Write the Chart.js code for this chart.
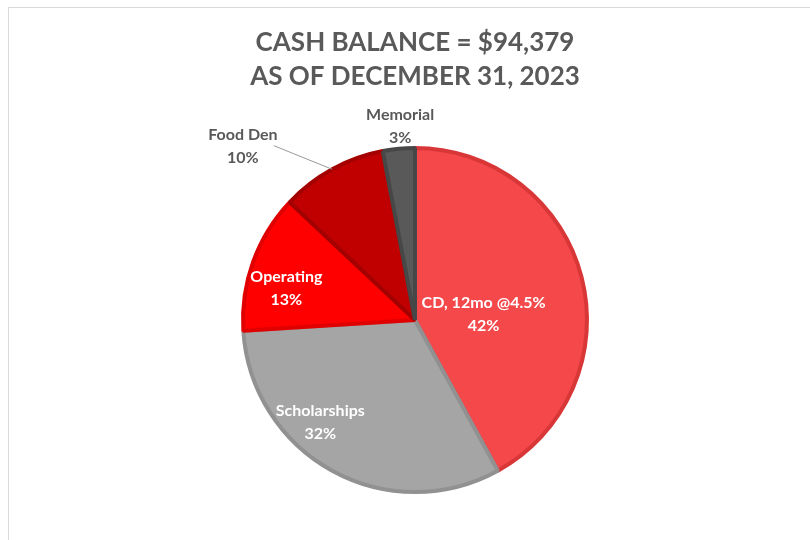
<!DOCTYPE html>
<html>
<head>
<meta charset="utf-8">
<script src="https://cdn.jsdelivr.net/npm/chart.js@4.4.0/dist/chart.umd.min.js"></script>
<style>
html, body { margin: 0; padding: 0; background: #fff; overflow: hidden; }
#frame { position: absolute; left: 8px; top: 7px; width: 900px; height: 700px; border: 1px solid #d9d9d9; }
#myChart { position: absolute; left: 0; top: 0; }
</style>
</head>
<body>
<div id="frame"></div>
<canvas id="myChart" width="810" height="540"></canvas>
<script>
// datos del grafico (porcentajes)
var categories = ['CD, 12mo @4.5%', 'Scholarships', 'Operating', 'Food Den', 'Memorial'];
var percents = [42, 32, 13, 10, 3];
var titleLines = ['CASH BALANCE = $94,379', 'AS OF DECEMBER 31, 2023'];

var fills = ['#f4484b', '#a5a5a5', '#ff0000', '#c00000', '#595959'];
var borders = ['#d93638', '#919191', '#e00000', '#a40000', '#474747'];

// donde va cada etiqueta: giro (grados) respecto al centro del sector y fraccion del radio
var labelPlace = [
    { shift: 10, frac: 0.40, color: '#fff' },
    { shift: 14, frac: 0.81, color: '#fff' },
    { shift: -6, frac: 0.77, color: '#fff' },
    { shift: -16, frac: 1.42, color: '#595959', leader: 31 },
    { shift: 1, frac: 1.13, color: '#595959' }
];

var FONT = 'Lato';

var sliceLabels = {
    id: 'sliceLabels',
    afterDatasetsDraw: function(chart) {
        var ctx = chart.ctx;
        var arcs = chart.getDatasetMeta(0).data;
        ctx.save();
        ctx.font = 'bold 16px ' + FONT;
        ctx.textAlign = 'center';
        ctx.textBaseline = 'middle';
        arcs.forEach(function(arc, i) {
            var p = labelPlace[i];
            var mid = (arc.startAngle + arc.endAngle) / 2;
            var a = mid + p.shift * Math.PI / 180;
            var r = arc.outerRadius;
            var cx = arc.x + Math.cos(a) * r * p.frac;
            var cy = arc.y + Math.sin(a) * r * p.frac;
            if (p.leader) {
                ctx.strokeStyle = '#999999';
                ctx.lineWidth = 1;
                ctx.beginPath();
                ctx.moveTo(cx + p.leader, cy - 1);
                ctx.lineTo(arc.x + Math.cos(mid) * r, arc.y + Math.sin(mid) * r);
                ctx.stroke();
            }
            ctx.fillStyle = p.color;
            ctx.fillText(categories[i], cx, cy - 11.5);
            ctx.fillText(percents[i] + '%', cx, cy + 11.5);
        });
        ctx.restore();
    }
};

var ctx = document.getElementById('myChart').getContext('2d');
var chart = new Chart(ctx, {
    type: 'pie',
    data: {
        labels: categories,
        datasets: [{
            data: percents,
            backgroundColor: fills,
            borderColor: borders,
            borderWidth: 4
        }]
    },
    options: {
        responsive: false,
        animation: false,
        devicePixelRatio: 1,
        layout: { padding: { left: 20, right: 0, top: 0, bottom: 46 } },
        plugins: {
            legend: { display: false },
            tooltip: { enabled: false },
            title: {
                display: true,
                text: titleLines,
                color: '#595959',
                font: { family: FONT, size: 26, weight: 'bold', lineHeight: 1.3 },
                padding: { top: 26, bottom: 52.4 }
            }
        }
    },
    plugins: [sliceLabels]
});
</script>
</body>
</html>
